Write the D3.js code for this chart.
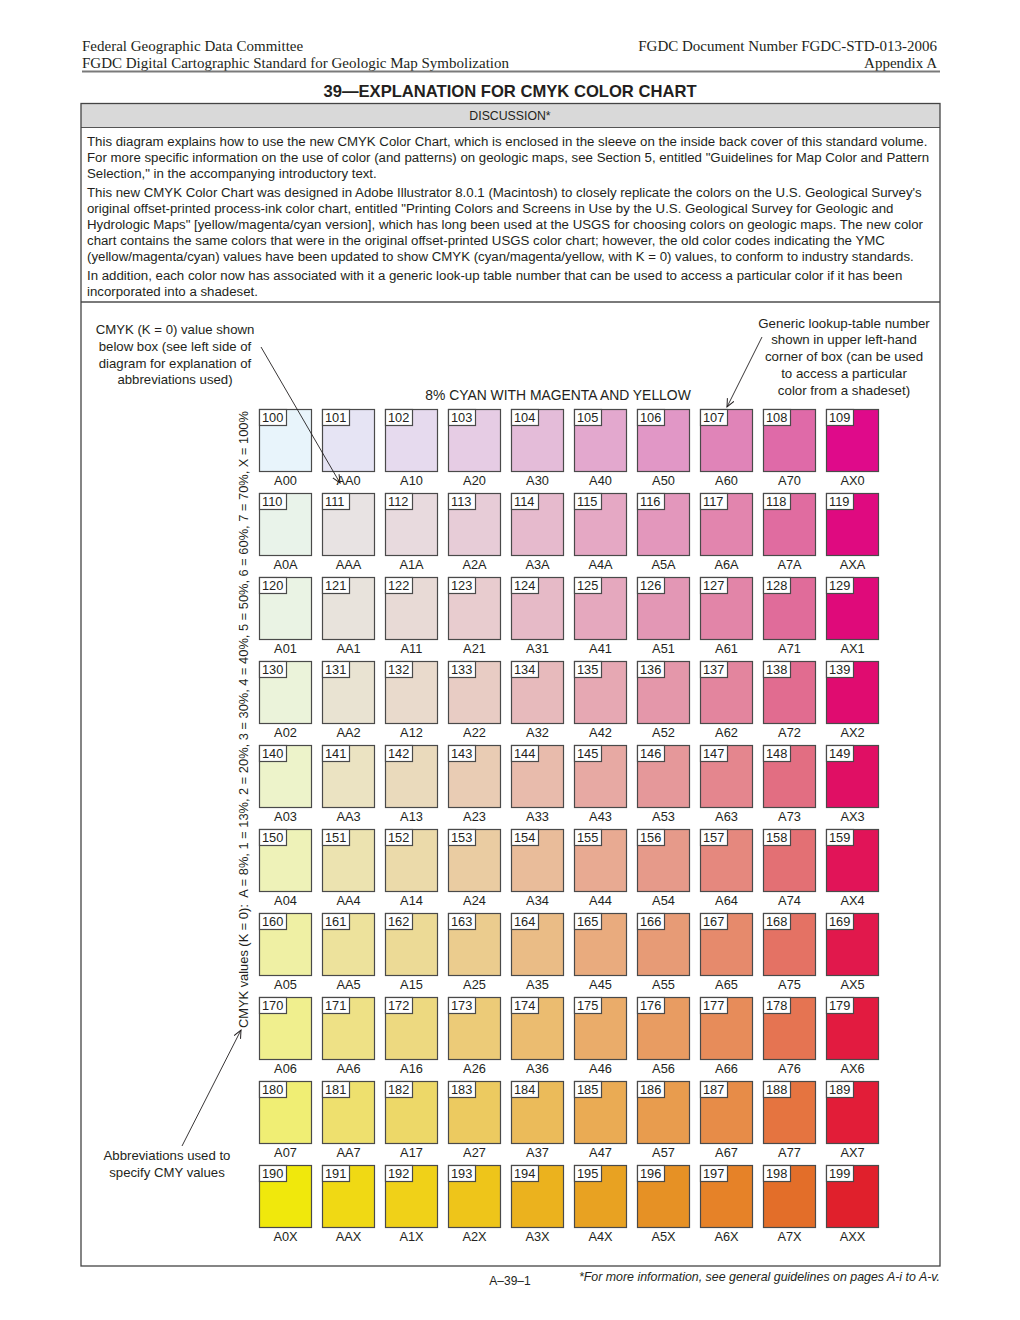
<!DOCTYPE html>
<html>
<head>
<meta charset="utf-8">
<script src="https://cdn.jsdelivr.net/npm/d3@7"></script>
<style>
  html, body { margin: 0; padding: 0; background: #fff; }
  svg text { white-space: pre; }
</style>
</head>
<body>
<svg id="chart" width="1020" height="1320"></svg>
<script>
// ---------------- DATA ----------------
const cyanCode = "A";                       // 8% cyan throughout
const magentaCodes = ["0","A","1","2","3","4","5","6","7","X"];   // columns
const yellowCodes  = ["0","A","1","2","3","4","5","6","7","X"];   // rows
const magentaPercents = [0, 8, 13, 20, 30, 40, 50, 60, 70, 100];
const yellowPercents  = [0, 8, 13, 20, 30, 40, 50, 60, 70, 100];

// Generic lookup-table numbers (rows = yellow, cols = magenta)
const lookupNumbers = [
  [100,101,102,103,104,105,106,107,108,109],
  [110,111,112,113,114,115,116,117,118,119],
  [120,121,122,123,124,125,126,127,128,129],
  [130,131,132,133,134,135,136,137,138,139],
  [140,141,142,143,144,145,146,147,148,149],
  [150,151,152,153,154,155,156,157,158,159],
  [160,161,162,163,164,165,166,167,168,169],
  [170,171,172,173,174,175,176,177,178,179],
  [180,181,182,183,184,185,186,187,188,189],
  [190,191,192,193,194,195,196,197,198,199]
];

// Swatch colours
const swatchColors = [
  ["#E8F4FB","#E6E4F4","#E6DAEE","#E6CCE4","#E4BCD9","#E3A8CE","#E197C6","#E084B8","#DF6AA8","#DF0A8A"],
  ["#E9F3EA","#E8E3E3","#E8DADE","#E7CCD7","#E6BACD","#E5A8C4","#E397BC","#E285AE","#E06CA0","#DF0A80"],
  ["#EAF3E4","#E8E3DC","#E8DAD6","#E8CCCF","#E6BAC7","#E5A8BE","#E397B5","#E285A8","#E06C9A","#DF0A7A"],
  ["#EBF3DA","#E9E3D2","#E9DACC","#E8CCC4","#E7BABC","#E6A8B3","#E497AA","#E3859E","#E16C90","#E00C70"],
  ["#EDF3CA","#EBE3C2","#EADABC","#E9CCB4","#E8BBAC","#E7A9A3","#E5989A","#E4868E","#E26E82","#E00F64"],
  ["#EEF2B8","#ECE3B0","#EBDAAA","#EACCA2","#E9BC9A","#E8AA92","#E69A8A","#E5887E","#E37074","#E11458"],
  ["#EFF0A4","#EDE29C","#ECDA96","#EBCC8E","#EABC86","#E9AB7E","#E79B76","#E68A6C","#E47264","#E1184C"],
  ["#F0EF8E","#EEE186","#EDD980","#ECCB78","#EBBC70","#EAAC6A","#E89C62","#E78C5A","#E57452","#E21B40"],
  ["#F0EE74","#EEE06E","#EDD868","#ECCA60","#EBBB5A","#EAAB54","#E89C4E","#E78C48","#E57440","#E21D38"],
  ["#F0E80C","#F0D914","#F0D118","#EEC51A","#EBB21E","#E8A222","#E69125","#E68228","#E36E29","#E0202C"]
];

const headerLeft  = ["Federal Geographic Data Committee", "FGDC Digital Cartographic Standard for Geologic Map Symbolization"];
const headerRight = ["FGDC Document Number FGDC-STD-013-2006", "Appendix A"];
const titleText = "39\u2014EXPLANATION FOR CMYK COLOR CHART";
const sectionLabel = "DISCUSSION*";
const paragraphs = [
  ["This diagram explains how to use the new CMYK Color Chart, which is enclosed in the sleeve on the inside back cover of this standard volume.",
   "For more specific information on the use of color (and patterns) on geologic maps, see Section 5, entitled \"Guidelines for Map Color and Pattern",
   "Selection,\" in the accompanying introductory text."],
  ["This new CMYK Color Chart was designed in Adobe Illustrator 8.0.1 (Macintosh) to closely replicate the colors on the U.S. Geological Survey's",
   "original offset-printed process-ink color chart, entitled \"Printing Colors and Screens in Use by the U.S. Geological Survey for Geologic and",
   "Hydrologic Maps\" [yellow/magenta/cyan version], which has long been used at the USGS for choosing colors on geologic maps. The new color",
   "chart contains the same colors that were in the original offset-printed USGS color chart; however, the old color codes indicating the YMC",
   "(yellow/magenta/cyan) values have been updated to show CMYK (cyan/magenta/yellow, with K = 0) values, to conform to industry standards."],
  ["In addition, each color now has associated with it a generic look-up table number that can be used to access a particular color if it has been",
   "incorporated into a shadeset."]
];
const noteLeftTop = ["CMYK (K = 0) value shown", "below box (see left side of", "diagram for explanation of", "abbreviations used)"];
const noteRight = ["Generic lookup-table number", "shown in upper left-hand", "corner of box (can be used", "to access a particular", "color from a shadeset)"];
const noteLeftBottom = ["Abbreviations used to", "specify CMY values"];
const chartTitle = "8% CYAN WITH MAGENTA AND YELLOW";
const axisLabel = "CMYK values (K = 0):  A = 8%, 1 = 13%, 2 = 20%, 3 = 30%, 4 = 40%, 5 = 50%, 6 = 60%, 7 = 70%, X = 100%";
const pageNumber = "A\u201339\u20131";
const footnote = "*For more information, see general guidelines on pages A-i to A-v.";

// ---------------- DRAW ----------------
const svg = d3.select("#chart");
const sans = "'Liberation Sans', Arial, Helvetica, sans-serif";
const serif = "'Liberation Serif', 'Times New Roman', serif";
const ink = "#231f20";

// defs: open arrowhead
const defs = svg.append("defs");
defs.append("marker")
  .attr("id", "arrow").attr("viewBox", "0 0 10 10")
  .attr("refX", 9).attr("refY", 5)
  .attr("markerWidth", 9).attr("markerHeight", 9)
  .attr("markerUnits", "userSpaceOnUse")
  .attr("orient", "auto")
  .append("path").attr("d", "M0,1 L9,5 L0,9")
  .attr("fill", "none").attr("stroke", ink).attr("stroke-width", 1.1);

// header
svg.selectAll(".hl").data(headerLeft).enter().append("text")
  .attr("x", 82).attr("y", (d, i) => 51 + i * 17)
  .attr("font-family", serif).attr("font-size", 15).attr("fill", ink).text(d => d);
svg.selectAll(".hr").data(headerRight).enter().append("text")
  .attr("x", 937).attr("y", (d, i) => 51 + i * 17).attr("text-anchor", "end")
  .attr("font-family", serif).attr("font-size", 15).attr("fill", ink).text(d => d);
svg.append("line").attr("x1", 82).attr("x2", 940).attr("y1", 71.5).attr("y2", 71.5)
  .attr("stroke", "#7a7a7a").attr("stroke-width", 2);

// title
svg.append("text").attr("x", 510).attr("y", 97).attr("text-anchor", "middle")
  .attr("font-family", sans).attr("font-weight", "bold").attr("font-size", 16.6)
  .attr("fill", ink).text(titleText);

// outer box + discussion bar
svg.append("rect").attr("x", 81).attr("y", 104).attr("width", 859).attr("height", 23)
  .attr("fill", "#d9d9d9");
svg.append("text").attr("x", 510).attr("y", 120).attr("text-anchor", "middle")
  .attr("font-family", sans).attr("font-size", 12.3).attr("fill", ink).text(sectionLabel);
svg.append("line").attr("x1", 81).attr("x2", 940).attr("y1", 127.5).attr("y2", 127.5)
  .attr("stroke", "#555").attr("stroke-width", 1);
svg.append("line").attr("x1", 81).attr("x2", 940).attr("y1", 302).attr("y2", 302)
  .attr("stroke", "#7a7a7a").attr("stroke-width", 2);
svg.append("rect").attr("x", 81).attr("y", 103.5).attr("width", 859).attr("height", 1162.5)
  .attr("fill", "none").attr("stroke", "#444").attr("stroke-width", 1.3);

// paragraphs
const paraStarts = [145.5, 196.5, 279.5];
paragraphs.forEach((lines, p) => {
  svg.append("g").selectAll("text").data(lines).enter().append("text")
    .attr("x", 87).attr("y", (d, i) => paraStarts[p] + i * 16)
    .attr("font-family", sans).attr("font-size", 13.25).attr("fill", ink).text(d => d);
});

// scales
const x = d3.scaleBand().domain(magentaCodes).range([259, 879]).paddingInner(10 / 63).paddingOuter(0);
const y = d3.scaleBand().domain(yellowCodes).range([409, 1228]).paddingInner(0.25).paddingOuter(0);

const cells = [];
yellowCodes.forEach((yc, r) => magentaCodes.forEach((mc, c) => {
  cells.push({ yc, mc, r, c, num: lookupNumbers[r][c], color: swatchColors[r][c],
               code: cyanCode + mc + yc, m: magentaPercents[c], yv: yellowPercents[r] });
}));

const cellG = svg.append("g").selectAll("g").data(cells).enter().append("g")
  .attr("transform", d => `translate(${x(d.mc)},${y(d.yc)})`);
cellG.append("rect")
  .attr("x", 0.5).attr("y", 0.5)
  .attr("width", x.bandwidth() - 1).attr("height", y.bandwidth() - 1)
  .attr("fill", d => d.color).attr("stroke", "#4a4a4a").attr("stroke-width", 1.2);
cellG.append("rect")
  .attr("x", 0.5).attr("y", 0.5).attr("width", 27).attr("height", 16)
  .attr("fill", "#fff").attr("stroke", "#4a4a4a").attr("stroke-width", 1.2);
cellG.append("text").attr("x", 3).attr("y", 13)
  .attr("font-family", sans).attr("font-size", 12.8).attr("fill", ink).text(d => d.num);
cellG.append("text").attr("x", x.bandwidth() / 2).attr("y", y.bandwidth() + 13)
  .attr("text-anchor", "middle")
  .attr("font-family", sans).attr("font-size", 12.8).attr("fill", ink).text(d => d.code);

// chart title
svg.append("text").attr("x", 558).attr("y", 400).attr("text-anchor", "middle")
  .attr("font-family", sans).attr("font-size", 13.9).attr("fill", ink).text(chartTitle);

// notes
svg.append("g").selectAll("text").data(noteLeftTop).enter().append("text")
  .attr("x", 175).attr("y", (d, i) => 334 + i * 16.8).attr("text-anchor", "middle")
  .attr("font-family", sans).attr("font-size", 13.2).attr("fill", ink).text(d => d);
svg.append("g").selectAll("text").data(noteRight).enter().append("text")
  .attr("x", 844).attr("y", (d, i) => 327.5 + i * 16.8).attr("text-anchor", "middle")
  .attr("font-family", sans).attr("font-size", 13.3).attr("fill", ink).text(d => d);
svg.append("g").selectAll("text").data(noteLeftBottom).enter().append("text")
  .attr("x", 167).attr("y", (d, i) => 1160 + i * 17).attr("text-anchor", "middle")
  .attr("font-family", sans).attr("font-size", 13.2).attr("fill", ink).text(d => d);

// leader lines
svg.append("line").attr("x1", 261).attr("y1", 347).attr("x2", 340).attr("y2", 483)
  .attr("stroke", ink).attr("stroke-width", 0.9).attr("marker-end", "url(#arrow)");
svg.append("line").attr("x1", 762).attr("y1", 337).attr("x2", 727).attr("y2", 407)
  .attr("stroke", ink).attr("stroke-width", 0.9).attr("marker-end", "url(#arrow)");
svg.append("line").attr("x1", 182).attr("y1", 1146).attr("x2", 241).attr("y2", 1030)
  .attr("stroke", ink).attr("stroke-width", 0.9).attr("marker-end", "url(#arrow)");

// rotated axis label
svg.append("text").attr("transform", "translate(248,1028) rotate(-90)")
  .attr("font-family", sans).attr("font-size", 12.85).attr("fill", ink).text(axisLabel);

// footer
svg.append("text").attr("x", 510).attr("y", 1285).attr("text-anchor", "middle")
  .attr("font-family", sans).attr("font-size", 12).attr("fill", ink).text(pageNumber);
svg.append("text").attr("x", 940).attr("y", 1281).attr("text-anchor", "end")
  .attr("font-family", sans).attr("font-style", "italic").attr("font-size", 12.4)
  .attr("fill", ink).text(footnote);
</script>
</body>
</html>
